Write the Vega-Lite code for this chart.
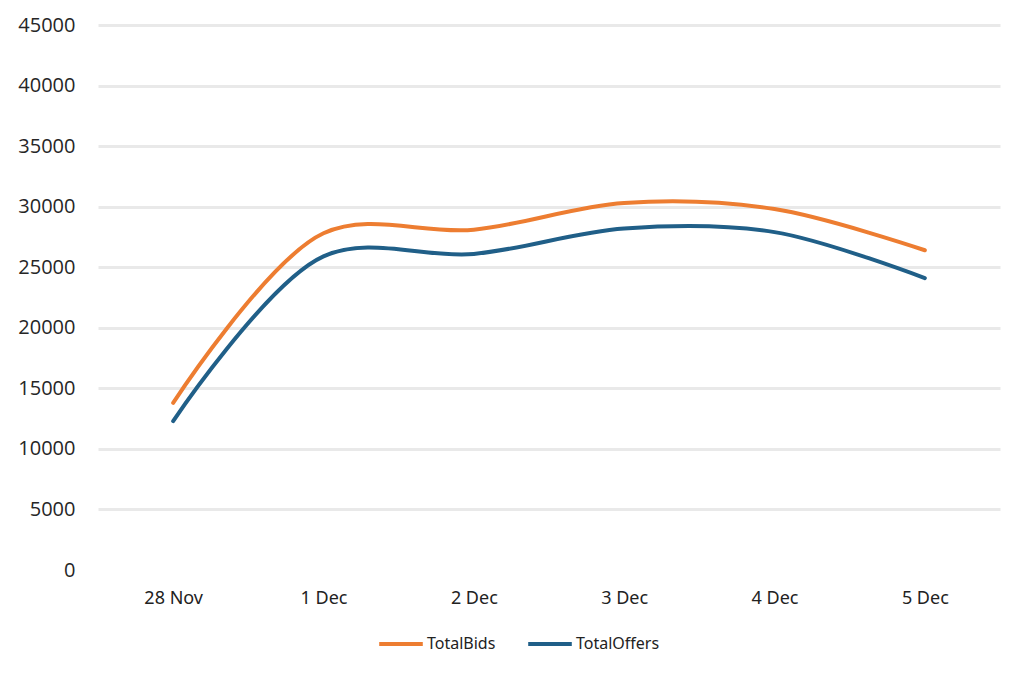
{
  "$schema": "https://vega.github.io/schema/vega-lite/v6.json",
  "width": 902,
  "height": 545,
  "autosize": {"type": "none"},
  "padding": {"left": 98, "top": 25, "right": 24, "bottom": 105},
  "background": "white",
  "data": {
    "values": [
      {"date": "28 Nov", "series": "TotalBids", "value": 13800},
      {"date": "1 Dec", "series": "TotalBids", "value": 27800},
      {"date": "2 Dec", "series": "TotalBids", "value": 28100},
      {"date": "3 Dec", "series": "TotalBids", "value": 30300},
      {"date": "4 Dec", "series": "TotalBids", "value": 29800},
      {"date": "5 Dec", "series": "TotalBids", "value": 26400},
      {"date": "28 Nov", "series": "TotalOffers", "value": 12300},
      {"date": "1 Dec", "series": "TotalOffers", "value": 25900},
      {"date": "2 Dec", "series": "TotalOffers", "value": 26100},
      {"date": "3 Dec", "series": "TotalOffers", "value": 28200},
      {"date": "4 Dec", "series": "TotalOffers", "value": 27900},
      {"date": "5 Dec", "series": "TotalOffers", "value": 24100}
    ]
  },
  "config": {
    "view": {"stroke": null},
    "font": "Open Sans"
  },
  "mark": {"type": "line", "interpolate": "catmull-rom", "strokeWidth": 4, "strokeCap": "round"},
  "encoding": {
    "x": {
      "field": "date",
      "type": "ordinal",
      "sort": ["28 Nov", "1 Dec", "2 Dec", "3 Dec", "4 Dec", "5 Dec"],
      "scale": {"type": "point", "padding": 0.5},
      "axis": {
        "title": null,
        "labelAngle": 0,
        "domain": false,
        "ticks": false,
        "grid": false,
        "labelFont": "Noto Sans",
        "labelFontSize": 18,
        "labelColor": "#222222",
        "labelPadding": 19
      }
    },
    "y": {
      "field": "value",
      "type": "quantitative",
      "scale": {"domain": [0, 45000], "nice": false},
      "axis": {
        "title": null,
        "values": [0, 5000, 10000, 15000, 20000, 25000, 30000, 35000, 40000, 45000],
        "format": "d",
        "domain": false,
        "ticks": false,
        "labelFont": "Open Sans",
        "labelFontSize": 20,
        "labelColor": "#262626",
        "labelPadding": 23,
        "gridColor": {"condition": {"test": "datum.value === 0", "value": "transparent"}, "value": "#E9E9E9"},
        "gridWidth": 3
      }
    },
    "color": {
      "field": "series",
      "type": "nominal",
      "scale": {"domain": ["TotalBids", "TotalOffers"], "range": ["#ED7D31", "#205F88"]},
      "legend": {
        "title": null,
        "orient": "none",
        "legendX": 279,
        "legendY": 595,
        "direction": "horizontal",
        "symbolType": "stroke",
        "symbolStrokeWidth": 4,
        "symbolSize": 1900,
        "labelOffset": 2,
        "labelFont": "Noto Sans",
        "labelFontSize": 16,
        "labelColor": "#222222",
        "columnPadding": 24
      }
    }
  }
}
